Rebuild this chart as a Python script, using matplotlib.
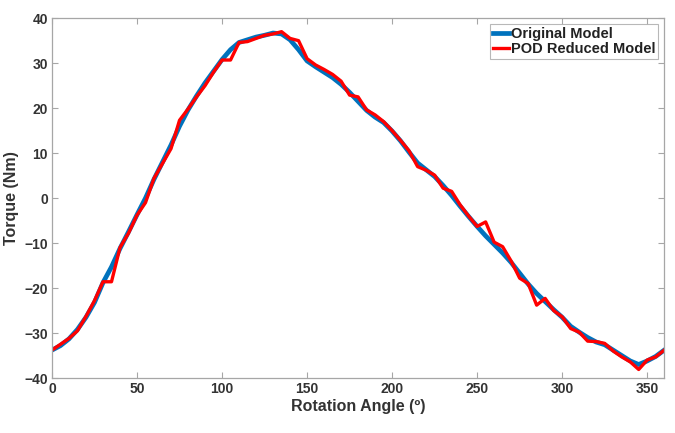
import numpy as np
import matplotlib
matplotlib.use("Agg")
import matplotlib.pyplot as plt

plt.rcParams['font.family'] = ['Liberation Sans', 'DejaVu Sans']
plt.rcParams['font.weight'] = 'bold'

# rotation angle in degrees, every 5 deg
angle = np.arange(0, 361, 5)

# original model torque (Nm)
original = [-33.8, -32.8, -31.3, -29.2, -26.5, -23.2, -18.8, -15.3, -11.2, -7.5,
            -3.7, 0.0, 4.2, 8.0, 11.8, 16.0, 19.6, 22.7, 25.6, 28.2,
            30.8, 33.0, 34.6, 35.2, 35.8, 36.2, 36.7, 36.5, 35.2, 33.0,
            30.5, 29.2, 28.0, 26.8, 25.3, 23.5, 21.5, 19.5, 18.0, 16.8,
            14.9, 12.7, 10.2, 7.8, 6.3, 4.8, 2.8, 0.6, -1.8, -4.1,
            -6.3, -8.4, -10.3, -12.2, -14.3, -16.7, -19.1, -21.2, -23.0, -24.8,
            -26.5, -28.5, -29.8, -31.0, -32.0, -32.6, -33.8, -35.0, -36.2, -37.0,
            -36.2, -35.2, -33.8]

# POD reduced model torque (Nm)
reduced = [-33.8, -32.5, -31.2, -29.5, -26.3, -22.8, -18.6, -18.6, -11.0, -7.8,
           -3.8, -1.0, 4.4, 7.7, 11.0, 17.3, 19.8, 22.5, 25.0, 28.0,
           30.7, 30.7, 34.6, 34.8, 35.5, 36.2, 36.5, 37.0, 35.5, 35.0,
           31.0, 29.6, 28.6, 27.5, 26.0, 22.9, 22.5, 19.6, 18.5, 17.0,
           15.0, 12.8, 10.5, 7.0, 6.2, 5.1, 2.2, 1.5, -1.5, -4.0,
           -6.3, -5.3, -9.8, -10.8, -14.0, -17.8, -19.0, -23.8, -22.3, -25.0,
           -26.4, -29.0, -29.8, -31.8, -31.9, -32.3, -34.0, -35.3, -36.4, -38.1,
           -36.0, -35.3, -33.8]

fig = plt.figure(figsize=(6.75, 4.33), dpi=100)
ax = fig.add_axes([0.077, 0.127, 0.907, 0.831])

ax.plot(angle, original, color='#0072BD', lw=3.4, label='Original Model')
ax.plot(angle, reduced, color='#FF0000', lw=2.4, label='POD Reduced Model')

ax.set_xlim(0, 360)
ax.set_ylim(-40, 40)
ax.set_xticks(np.arange(0, 351, 50))
ax.set_yticks(np.arange(-40, 41, 10))

for s in ax.spines.values():
    s.set_color('#a6a6a6')
    s.set_linewidth(0.9)
ax.tick_params(direction='in', top=True, right=True, length=4, color='#a6a6a6',
               labelsize=10, labelcolor='#333333', pad=3)
for lab in ax.get_xticklabels() + ax.get_yticklabels():
    lab.set_fontweight('bold')

ax.set_xlabel('Rotation Angle (º)', fontsize=11.5, fontweight='bold', color='#333333', labelpad=2)
ax.set_ylabel('Torque (Nm)', fontsize=11.5, fontweight='bold', color='#333333', labelpad=4)

leg = ax.legend(loc='upper right', fontsize=10.5, handlelength=1.1, handletextpad=0.15,
                borderpad=0.2, labelspacing=0.1, frameon=True, fancybox=False,
                borderaxespad=0.4)
leg.get_frame().set_edgecolor('#a6a6a6')
leg.get_frame().set_linewidth(0.8)
for t in leg.get_texts():
    t.set_fontweight('bold')
    t.set_color('#222222')

fig.savefig('out.png', dpi=100)
